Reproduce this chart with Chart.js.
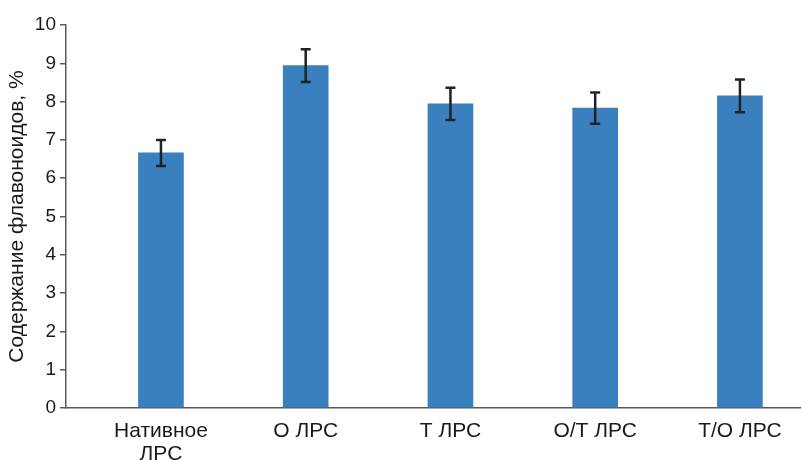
<!DOCTYPE html>
<html lang="ru">
<head>
<meta charset="utf-8">
<title>Содержание флавоноидов</title>
<script src="https://cdn.jsdelivr.net/npm/chart.js@4.4.1/dist/chart.umd.min.js"></script>
<style>
    html, body { margin: 0; padding: 0; background: #ffffff; }
    #wrap { width: 802px; height: 460px; position: relative; }
</style>
</head>
<body>
<div id="wrap"><canvas id="flavChart"></canvas></div>
<script>
// Данные
const categories = [['Нативное', 'ЛРС'], 'О ЛРС', 'Т ЛРС', 'О/Т ЛРС', 'Т/О ЛРС'];
const values = [6.66, 8.94, 7.94, 7.83, 8.15];
const errors = [0.34, 0.43, 0.42, 0.41, 0.43];
const yTicks = [0, 1, 2, 3, 4, 5, 6, 7, 8, 9, 10];

const axisColor = '#595959';
const barColor = '#3a7fbe';

// Планки погрешностей
const errorBars = {
    id: 'errorBars',
    afterDatasetsDraw(chart) {
        const ctx = chart.ctx;
        const x = chart.scales.x;
        const y = chart.scales.y;
        ctx.save();
        ctx.strokeStyle = '#222222';
        ctx.lineWidth = 2.5;
        values.forEach((v, i) => {
            const px = x.getPixelForValue(i);
            const top = y.getPixelForValue(v + errors[i]);
            const bot = y.getPixelForValue(v - errors[i]);
            ctx.beginPath();
            ctx.moveTo(px, top);
            ctx.lineTo(px, bot);
            ctx.moveTo(px - 5, top);
            ctx.lineTo(px + 5, top);
            ctx.moveTo(px - 5, bot);
            ctx.lineTo(px + 5, bot);
            ctx.stroke();
        });
        ctx.restore();
    }
};

const ctx = document.getElementById('flavChart').getContext('2d');
new Chart(ctx, {
    type: 'bar',
    data: {
        datasets: [{
            data: values.map((v, i) => ({ x: i, y: v })),
            backgroundColor: barColor,
            borderWidth: 0,
            barThickness: 45
        }]
    },
    options: {
        responsive: true,
        maintainAspectRatio: false,
        animation: false,
        layout: { padding: { top: 25, right: 2, bottom: 0, left: 0 } },
        plugins: {
            legend: { display: false },
            tooltip: { enabled: false }
        },
        scales: {
            x: {
                type: 'linear',
                offset: false,
                min: -0.656,
                max: 4.415,
                afterBuildTicks: (scale) => {
                    scale.ticks = categories.map((c, i) => ({ value: i }));
                },
                afterFit: (scale) => { scale.height = 52; },
                grid: { display: false, drawTicks: false },
                border: { display: true, color: axisColor, width: 1.5 },
                ticks: {
                    color: '#1a1a1a',
                    padding: 12,
                    maxRotation: 0,
                    autoSkip: false,
                    font: { family: 'Liberation Sans, Arial, sans-serif', size: 21, lineHeight: 1.1 },
                    callback: (value) => categories[value]
                }
            },
            y: {
                min: 0,
                max: 10,
                afterBuildTicks: (scale) => {
                    scale.ticks = yTicks.map(v => ({ value: v }));
                },
                afterFit: (scale) => { scale.width = 66; },
                grid: {
                    drawOnChartArea: false,
                    drawTicks: true,
                    tickLength: 6,
                    color: axisColor,
                    lineWidth: 1.5
                },
                border: { display: true, color: axisColor, width: 1.5 },
                ticks: {
                    color: '#1a1a1a',
                    padding: 4,
                    font: { family: 'Liberation Sans, Arial, sans-serif', size: 19 }
                },
                title: {
                    display: true,
                    text: 'Содержание флавоноидов, %',
                    color: '#1a1a1a',
                    padding: { top: 5, bottom: 4 },
                    font: { family: 'Liberation Sans, Arial, sans-serif', size: 21 }
                }
            }
        }
    },
    plugins: [errorBars]
});
</script>
</body>
</html>
